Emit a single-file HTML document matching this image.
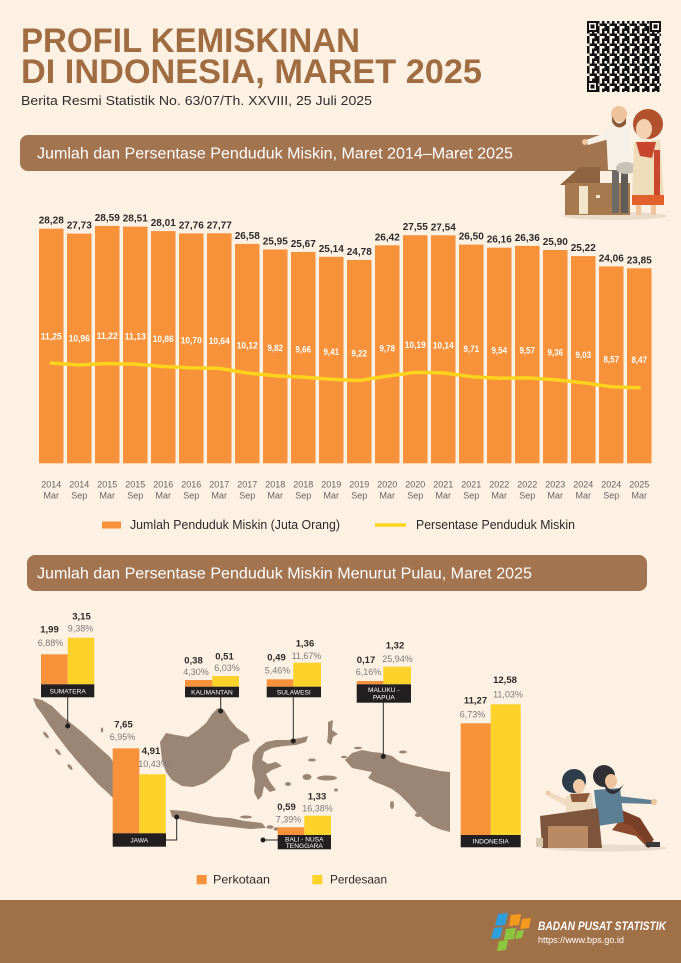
<!DOCTYPE html>
<html><head><meta charset="utf-8"><style>
html,body{margin:0;padding:0;background:#fdf1e3;}
svg{display:block;}
text{font-family:"Liberation Sans",sans-serif;}
.v{font-size:10px;font-weight:bold;fill:#2b2b2b;text-anchor:middle;}
.p{font-size:9.5px;font-weight:bold;fill:#ffffff;text-anchor:middle;}
.x{font-size:9px;fill:#666;text-anchor:middle;}
.n{font-size:9.5px;font-weight:bold;fill:#2b2b2b;text-anchor:middle;}
.q{font-size:9px;fill:#7a7a7a;text-anchor:middle;}
.b{font-size:6.6px;fill:#fff;text-anchor:middle;}
</style></head><body>
<svg width="681" height="963" viewBox="0 0 681 963" xmlns="http://www.w3.org/2000/svg">
<defs>
<pattern id="qr" width="10" height="10" patternUnits="userSpaceOnUse" x="587" y="21">
<rect x="0" y="0" width="10" height="10" fill="#fbf6ee"/>
<rect x="0" y="0" width="2.5" height="2.5" fill="#111"/>
<rect x="5" y="0" width="2.5" height="5" fill="#111"/>
<rect x="2.5" y="2.5" width="2.5" height="2.5" fill="#111"/>
<rect x="7.5" y="2.5" width="2.5" height="2.5" fill="#111"/>
<rect x="0" y="5" width="2.5" height="5" fill="#111"/>
<rect x="5" y="7.5" width="5" height="2.5" fill="#111"/>
<rect x="7.5" y="5" width="2.5" height="2.5" fill="#111"/>
</pattern>
</defs>
<rect x="0" y="0" width="681" height="963" fill="#fdf1e3"/>

<!-- Title -->
<text x="21" y="52" font-size="34" font-weight="bold" fill="#a06d42" textLength="339" lengthAdjust="spacingAndGlyphs">PROFIL KEMISKINAN</text>
<text x="21" y="83" font-size="34" font-weight="bold" fill="#a06d42" textLength="461" lengthAdjust="spacingAndGlyphs">DI INDONESIA, MARET 2025</text>
<text x="21" y="105" font-size="13" fill="#2e2e2e" textLength="351" lengthAdjust="spacingAndGlyphs">Berita Resmi Statistik No. 63/07/Th. XXVIII, 25 Juli 2025</text>

<!-- QR -->
<rect x="587" y="21" width="74" height="71" fill="url(#qr)"/>
<g fill="#111">
<rect x="587" y="21" width="11" height="11"/><rect x="650" y="21" width="11" height="11"/><rect x="587" y="81" width="11" height="11"/>
</g>
<g fill="#fbf6ee">
<rect x="589" y="23" width="7" height="7"/><rect x="652" y="23" width="7" height="7"/><rect x="589" y="83" width="7" height="7"/>
</g>
<g fill="#111">
<rect x="590.5" y="24.5" width="4" height="4"/><rect x="653.5" y="24.5" width="4" height="4"/><rect x="590.5" y="84.5" width="4" height="4"/>
</g>

<!-- Header 1 -->
<rect x="20" y="135" width="600" height="36" rx="8" fill="#a37450"/>
<text x="37" y="158.5" font-size="15.5" fill="#fff" textLength="476" lengthAdjust="spacingAndGlyphs">Jumlah dan Persentase Penduduk Miskin, Maret 2014–Maret 2025</text>

<!-- Top right illustration: house + couple -->
<ellipse cx="615" cy="216" rx="52" ry="4" fill="#eadccb"/>
<polygon points="560,185 580,167 600,167 600,185" fill="#8f6440"/>
<rect x="565" y="183" width="65" height="32" fill="#a7794f"/>
<rect x="579" y="186" width="9" height="28" fill="#f3e4cc"/>
<rect x="596" y="195" width="4" height="3" fill="#f3e4cc"/>
<!-- man -->
<rect x="612" y="165" width="7" height="48" fill="#6e6a66"/>
<rect x="621" y="165" width="7" height="48" fill="#5f5b57"/>
<path d="M606,128 L630,126 L632,170 L608,170 Z" fill="#f6f1e8"/>
<path d="M608,132 L586,140 L588,145 L609,139 Z" fill="#f6f1e8"/>
<circle cx="585" cy="142" r="3" fill="#efc39c"/>
<circle cx="619" cy="114" r="8" fill="#efc39c"/>
<path d="M612,116 Q618,130 626,118 L626,124 Q618,132 612,122 Z" fill="#8a5a38"/>
<ellipse cx="626" cy="168" rx="10" ry="6" fill="#c9c2b6"/>
<!-- woman -->
<circle cx="648" cy="124" r="15" fill="#b1522d"/>
<ellipse cx="644" cy="129" rx="8" ry="10" fill="#f4d1b1"/>
<path d="M634,142 L660,140 L664,200 L632,200 Z" fill="#eedcba"/>
<path d="M636,142 L656,142 L652,158 L640,156 Z" fill="#c8452e"/>
<rect x="654" y="150" width="6" height="45" fill="#c8452e"/>
<rect x="632" y="195" width="32" height="10" fill="#e2602b"/>
<rect x="636" y="205" width="5" height="10" fill="#efc39c"/>
<rect x="651" y="205" width="5" height="10" fill="#efc39c"/>

<!-- Bars -->
<g fill="#f7913a">
<rect x="39" y="228.7" width="24.5" height="234.6"/>
<rect x="67" y="233.6" width="24.5" height="229.7"/>
<rect x="95" y="225.9" width="24.5" height="237.4"/>
<rect x="123" y="226.6" width="24.5" height="236.7"/>
<rect x="151" y="231.1" width="24.5" height="232.2"/>
<rect x="179" y="233.4" width="24.5" height="229.9"/>
<rect x="207" y="233.3" width="24.5" height="230.0"/>
<rect x="235" y="243.9" width="24.5" height="219.4"/>
<rect x="263" y="249.5" width="24.5" height="213.8"/>
<rect x="291" y="252.0" width="24.5" height="211.3"/>
<rect x="319" y="256.8" width="24.5" height="206.5"/>
<rect x="347" y="260.0" width="24.5" height="203.3"/>
<rect x="375" y="245.3" width="24.5" height="218.0"/>
<rect x="403" y="235.2" width="24.5" height="228.1"/>
<rect x="431" y="235.3" width="24.5" height="228.0"/>
<rect x="459" y="244.6" width="24.5" height="218.7"/>
<rect x="487" y="247.7" width="24.5" height="215.6"/>
<rect x="515" y="245.9" width="24.5" height="217.4"/>
<rect x="543" y="250.0" width="24.5" height="213.3"/>
<rect x="571" y="256.1" width="24.5" height="207.2"/>
<rect x="599" y="266.4" width="24.5" height="196.9"/>
<rect x="627" y="268.3" width="24.5" height="195.0"/>
</g>
<!-- value labels -->
<g>
<text class="v" x="51.25" y="223.7">28,28</text>
<text class="v" x="79.25" y="228.6">27,73</text>
<text class="v" x="107.25" y="220.9">28,59</text>
<text class="v" x="135.25" y="221.6">28,51</text>
<text class="v" x="163.25" y="226.1">28,01</text>
<text class="v" x="191.25" y="228.4">27,76</text>
<text class="v" x="219.25" y="228.3">27,77</text>
<text class="v" x="247.25" y="238.9">26,58</text>
<text class="v" x="275.25" y="244.5">25,95</text>
<text class="v" x="303.25" y="247.0">25,67</text>
<text class="v" x="331.25" y="251.8">25,14</text>
<text class="v" x="359.25" y="255.0">24,78</text>
<text class="v" x="387.25" y="240.3">26,42</text>
<text class="v" x="415.25" y="230.2">27,55</text>
<text class="v" x="443.25" y="230.3">27,54</text>
<text class="v" x="471.25" y="239.6">26,50</text>
<text class="v" x="499.25" y="242.7">26,16</text>
<text class="v" x="527.25" y="240.9">26,36</text>
<text class="v" x="555.25" y="245.0">25,90</text>
<text class="v" x="583.25" y="251.1">25,22</text>
<text class="v" x="611.25" y="261.4">24,06</text>
<text class="v" x="639.25" y="263.3">23,85</text>
</g>
<!-- percentage line -->
<polyline fill="none" stroke="#fcd41c" stroke-width="3.5" stroke-linejoin="round" stroke-linecap="round" points="51.25,363.0 79.25,365.0 107.25,363.5 135.25,364.1 163.25,366.5 191.25,367.9 219.25,368.4 247.25,373.0 275.25,375.7 303.25,377.1 331.25,379.3 359.25,380.5 387.25,376.1 415.25,372.4 443.25,372.9 471.25,376.7 499.25,378.2 527.25,377.9 555.25,379.8 583.25,382.7 611.25,386.8 639.25,387.7"/>
<g>
<text class="p" x="51.25" y="339.5" textLength="21" lengthAdjust="spacingAndGlyphs">11,25</text>
<text class="p" x="79.25" y="341.6" textLength="21" lengthAdjust="spacingAndGlyphs">10,96</text>
<text class="p" x="107.25" y="338.8" textLength="21" lengthAdjust="spacingAndGlyphs">11,22</text>
<text class="p" x="135.25" y="339.6" textLength="21" lengthAdjust="spacingAndGlyphs">11,13</text>
<text class="p" x="163.25" y="342.0" textLength="21" lengthAdjust="spacingAndGlyphs">10,86</text>
<text class="p" x="191.25" y="343.4" textLength="21" lengthAdjust="spacingAndGlyphs">10,70</text>
<text class="p" x="219.25" y="343.9" textLength="21" lengthAdjust="spacingAndGlyphs">10,64</text>
<text class="p" x="247.25" y="348.5" textLength="21" lengthAdjust="spacingAndGlyphs">10,12</text>
<text class="p" x="275.25" y="351.2" textLength="15.5" lengthAdjust="spacingAndGlyphs">9,82</text>
<text class="p" x="303.25" y="352.6" textLength="15.5" lengthAdjust="spacingAndGlyphs">9,66</text>
<text class="p" x="331.25" y="354.8" textLength="15.5" lengthAdjust="spacingAndGlyphs">9,41</text>
<text class="p" x="359.25" y="356.5" textLength="15.5" lengthAdjust="spacingAndGlyphs">9,22</text>
<text class="p" x="387.25" y="351.6" textLength="15.5" lengthAdjust="spacingAndGlyphs">9,78</text>
<text class="p" x="415.25" y="347.9" textLength="21" lengthAdjust="spacingAndGlyphs">10,19</text>
<text class="p" x="443.25" y="348.4" textLength="21" lengthAdjust="spacingAndGlyphs">10,14</text>
<text class="p" x="471.25" y="352.2" textLength="15.5" lengthAdjust="spacingAndGlyphs">9,71</text>
<text class="p" x="499.25" y="353.7" textLength="15.5" lengthAdjust="spacingAndGlyphs">9,54</text>
<text class="p" x="527.25" y="353.4" textLength="15.5" lengthAdjust="spacingAndGlyphs">9,57</text>
<text class="p" x="555.25" y="355.3" textLength="15.5" lengthAdjust="spacingAndGlyphs">9,36</text>
<text class="p" x="583.25" y="358.2" textLength="15.5" lengthAdjust="spacingAndGlyphs">9,03</text>
<text class="p" x="611.25" y="362.3" textLength="15.5" lengthAdjust="spacingAndGlyphs">8,57</text>
<text class="p" x="639.25" y="363.2" textLength="15.5" lengthAdjust="spacingAndGlyphs">8,47</text>
</g>
<!-- x labels -->
<g>
<text class="x" x="51.25" y="487.5">2014</text><text class="x" x="51.25" y="498.5">Mar</text>
<text class="x" x="79.25" y="487.5">2014</text><text class="x" x="79.25" y="498.5">Sep</text>
<text class="x" x="107.25" y="487.5">2015</text><text class="x" x="107.25" y="498.5">Mar</text>
<text class="x" x="135.25" y="487.5">2015</text><text class="x" x="135.25" y="498.5">Sep</text>
<text class="x" x="163.25" y="487.5">2016</text><text class="x" x="163.25" y="498.5">Mar</text>
<text class="x" x="191.25" y="487.5">2016</text><text class="x" x="191.25" y="498.5">Sep</text>
<text class="x" x="219.25" y="487.5">2017</text><text class="x" x="219.25" y="498.5">Mar</text>
<text class="x" x="247.25" y="487.5">2017</text><text class="x" x="247.25" y="498.5">Sep</text>
<text class="x" x="275.25" y="487.5">2018</text><text class="x" x="275.25" y="498.5">Mar</text>
<text class="x" x="303.25" y="487.5">2018</text><text class="x" x="303.25" y="498.5">Sep</text>
<text class="x" x="331.25" y="487.5">2019</text><text class="x" x="331.25" y="498.5">Mar</text>
<text class="x" x="359.25" y="487.5">2019</text><text class="x" x="359.25" y="498.5">Sep</text>
<text class="x" x="387.25" y="487.5">2020</text><text class="x" x="387.25" y="498.5">Mar</text>
<text class="x" x="415.25" y="487.5">2020</text><text class="x" x="415.25" y="498.5">Sep</text>
<text class="x" x="443.25" y="487.5">2021</text><text class="x" x="443.25" y="498.5">Mar</text>
<text class="x" x="471.25" y="487.5">2021</text><text class="x" x="471.25" y="498.5">Sep</text>
<text class="x" x="499.25" y="487.5">2022</text><text class="x" x="499.25" y="498.5">Mar</text>
<text class="x" x="527.25" y="487.5">2022</text><text class="x" x="527.25" y="498.5">Sep</text>
<text class="x" x="555.25" y="487.5">2023</text><text class="x" x="555.25" y="498.5">Mar</text>
<text class="x" x="583.25" y="487.5">2024</text><text class="x" x="583.25" y="498.5">Mar</text>
<text class="x" x="611.25" y="487.5">2024</text><text class="x" x="611.25" y="498.5">Sep</text>
<text class="x" x="639.25" y="487.5">2025</text><text class="x" x="639.25" y="498.5">Mar</text>
</g>
<!-- legend 1 -->
<rect x="102" y="521.5" width="19" height="7" fill="#f7913a"/>
<text x="130" y="529" font-size="12.5" fill="#2b2b2b" textLength="210" lengthAdjust="spacingAndGlyphs">Jumlah Penduduk Miskin (Juta Orang)</text>
<line x1="375" y1="525" x2="406" y2="525" stroke="#fcd41c" stroke-width="3.5"/>
<text x="416" y="529" font-size="12.5" fill="#2b2b2b" textLength="159" lengthAdjust="spacingAndGlyphs">Persentase Penduduk Miskin</text>

<!-- Header 2 -->
<rect x="27" y="555" width="620" height="36" rx="8" fill="#a37450"/>
<text x="37" y="578.5" font-size="15.5" fill="#fff" textLength="495" lengthAdjust="spacingAndGlyphs">Jumlah dan Persentase Penduduk Miskin Menurut Pulau, Maret 2025</text>

<!-- Map -->
<g fill="#9b8676">
<path d="M33,698 L42,700 L52,706 L62,716 L72,724 L82,732 L92,741 L102,750 L110,757 L115,765 L120,778 L126,790 L124,800 L116,801 L108,793 L98,784 L88,773 L78,762 L68,750 L58,737 L50,726 L42,714 L36,706 Z"/>
<ellipse cx="46" cy="735" rx="1.5" ry="4" transform="rotate(-40 46 735)"/>
<ellipse cx="58" cy="752" rx="1.5" ry="4" transform="rotate(-40 58 752)"/>
<ellipse cx="70" cy="767" rx="1.5" ry="3.5" transform="rotate(-40 70 767)"/>
<ellipse cx="102" cy="730" rx="1.2" ry="2.5"/>
<path d="M160,742 L166,733 L176,735 L188,737 L198,730 L206,723 L212,714 L218,708 L224,710 L230,720 L237,728 L247,735 L250,741 L240,745 L233,750 L230,760 L224,768 L214,776 L205,783 L193,787 L182,786 L172,780 L166,772 L162,760 Z"/>
<path d="M170,810 L185,811 L200,814 L215,817 L230,818 L245,821 L262,823 L266,828 L250,829 L232,827 L215,825 L198,823 L183,820 L172,817 Z"/>
<ellipse cx="246" cy="817" rx="6" ry="1.5"/>
<ellipse cx="270" cy="827" rx="3.5" ry="1.8"/>
<ellipse cx="276" cy="829" rx="2.5" ry="1.8"/>
<path d="M253,755 L258,748 L266,742 L276,740 L288,740 L300,738 L308,736 L306,742 L296,745 L284,746 L272,748 L264,752 L262,760 L268,764 L276,762 L282,766 L272,770 L266,774 L270,782 L276,790 L270,792 L264,786 L262,796 L258,800 L254,792 L255,780 L252,768 Z"/>
<ellipse cx="288" cy="784" rx="3" ry="2"/>
<path d="M328,722 L333,720 L332,730 L338,734 L333,737 L331,745 L327,742 L328,734 Z"/>
<ellipse cx="307" cy="777" rx="4.5" ry="3"/>
<ellipse cx="327" cy="778" rx="10" ry="2.5"/>
<ellipse cx="312" cy="760" rx="4" ry="1.5"/>
<ellipse cx="344" cy="757" rx="3" ry="1.3"/>
<ellipse cx="358" cy="748" rx="4" ry="1.3"/>
<ellipse cx="336" cy="790" rx="2" ry="1.5"/>
<path d="M345,760 L352,753 L362,750 L372,752 L382,753 L392,756 L400,762 L412,765 L425,768 L440,771 L450,772 L450,832 L442,830 L432,826 L424,820 L416,812 L408,803 L400,795 L392,789 L383,785 L375,782 L368,778 L372,772 L362,770 L352,768 Z"/>
<ellipse cx="403" cy="752" rx="4" ry="1.5"/>
<ellipse cx="392" cy="805" rx="2" ry="4"/>
<ellipse cx="418" cy="815" rx="3" ry="2"/>
</g>

<!-- connectors -->
<g stroke="#2b2b2b" stroke-width="1" fill="none">
<line x1="67.7" y1="697" x2="67.7" y2="726"/>
<line x1="220.7" y1="697" x2="220.7" y2="711"/>
<line x1="293.3" y1="697" x2="293.3" y2="741"/>
<line x1="383.3" y1="702" x2="383.3" y2="756"/>
<polyline points="166,840 176.7,840 176.7,817"/>
<line x1="263" y1="840" x2="278" y2="840"/>
</g>
<g fill="#1f1f1f">
<circle cx="67.7" cy="726" r="2.5"/>
<circle cx="220.7" cy="711" r="2.5"/>
<circle cx="293.3" cy="741" r="2.5"/>
<circle cx="383.3" cy="756.5" r="2.5"/>
<circle cx="176.7" cy="817" r="2.5"/>
<circle cx="263" cy="840" r="2.5"/>
</g>

<!-- Region bars -->
<g>
<!-- Sumatera -->
<rect x="41" y="654.3" width="26.7" height="30" fill="#f7913a"/>
<rect x="67.7" y="637.7" width="26.6" height="46.6" fill="#fdd22a"/>
<rect x="41" y="684.3" width="53.3" height="13" fill="#231f20"/>
<text class="b" x="67.7" y="693.3">SUMATERA</text>
<text class="n" x="49.5" y="632.5">1,99</text>
<text class="q" x="50.5" y="646">6,88%</text>
<text class="n" x="81.5" y="619.5">3,15</text>
<text class="q" x="80.5" y="631.5">9,38%</text>
<!-- Kalimantan -->
<rect x="185" y="680" width="27.3" height="6.7" fill="#f7913a"/>
<rect x="212.3" y="676" width="26.7" height="10.7" fill="#fdd22a"/>
<rect x="185" y="686.7" width="54" height="10.6" fill="#231f20"/>
<text class="b" x="212" y="694.5">KALIMANTAN</text>
<text class="n" x="193.5" y="663.5">0,38</text>
<text class="q" x="196" y="675">4,30%</text>
<text class="n" x="224.5" y="659.5">0,51</text>
<text class="q" x="227" y="671">6,03%</text>
<!-- Sulawesi -->
<rect x="266.7" y="679.3" width="26.6" height="7.4" fill="#f7913a"/>
<rect x="293.3" y="662.7" width="27.7" height="24" fill="#fdd22a"/>
<rect x="266.7" y="686.7" width="54.3" height="10.6" fill="#231f20"/>
<text class="b" x="293.8" y="694.5">SULAWESI</text>
<text class="n" x="276.5" y="660.5">0,49</text>
<text class="q" x="277.5" y="673.5">5,46%</text>
<text class="n" x="305" y="646.5">1,36</text>
<text class="q" x="306.5" y="659">11,67%</text>
<!-- Maluku-Papua -->
<rect x="356.7" y="681" width="26.6" height="3.3" fill="#f7913a"/>
<rect x="383.3" y="666.7" width="27.7" height="17.6" fill="#fdd22a"/>
<rect x="356.7" y="684.3" width="54.3" height="18.4" fill="#231f20"/>
<text class="b" x="383.8" y="692">MALUKU -</text>
<text class="b" x="383.8" y="699.5">PAPUA</text>
<text class="n" x="366" y="662.8">0,17</text>
<text class="q" x="368.5" y="675">6,16%</text>
<text class="n" x="395" y="648.5">1,32</text>
<text class="q" x="397.5" y="661.8">25,94%</text>
<!-- Jawa -->
<rect x="112.7" y="748.3" width="26.6" height="85" fill="#f7913a"/>
<rect x="139.3" y="774.3" width="26.4" height="59" fill="#fdd22a"/>
<rect x="112.7" y="833.3" width="53.3" height="13.4" fill="#231f20"/>
<text class="b" x="139.3" y="842.5">JAWA</text>
<text class="n" x="123.5" y="727.5">7,65</text>
<text class="q" x="122.5" y="740">6,95%</text>
<text class="n" x="151" y="754">4,91</text>
<text class="q" x="153.5" y="767">10,43%</text>
<!-- Bali - Nusa Tenggara -->
<rect x="277.7" y="827.3" width="26.6" height="7.7" fill="#f7913a"/>
<rect x="304.3" y="815.7" width="26.7" height="19.3" fill="#fdd22a"/>
<rect x="277.7" y="835" width="53.3" height="14.3" fill="#231f20"/>
<text class="b" x="304.3" y="841.6">BALI - NUSA</text>
<text class="b" x="304.3" y="848">TENGGARA</text>
<text class="n" x="286.5" y="810">0,59</text>
<text class="q" x="288.5" y="822.5">7,39%</text>
<text class="n" x="317" y="799.5">1,33</text>
<text class="q" x="317.5" y="811.5">16,38%</text>
<!-- Indonesia -->
<rect x="460.7" y="723.3" width="30" height="111.7" fill="#f7913a"/>
<rect x="490.7" y="704.3" width="30" height="130.7" fill="#fdd22a"/>
<rect x="460.7" y="835" width="60" height="12.3" fill="#231f20"/>
<text class="b" x="490.7" y="843.6">INDONESIA</text>
<text class="n" x="475.5" y="703.5">11,27</text>
<text class="q" x="472.5" y="717.5">6,73%</text>
<text class="n" x="505" y="683">12,58</text>
<text class="q" x="508" y="697.5">11,03%</text>
</g>

<!-- Bottom-right illustration: sitting couple -->
<ellipse cx="605" cy="848" rx="62" ry="3.5" fill="#e8dccd"/>
<path d="M620,820 L645,832 L656,845 L648,848 L636,836 L612,830 Z" fill="#8c4b2e"/>
<path d="M612,806 L640,818 L654,840 L646,843 L632,826 L606,818 Z" fill="#7a3f27"/>
<rect x="646" y="842" width="14" height="5" fill="#3a3a3a"/>
<path d="M594,790 L620,788 L624,822 L598,826 Z" fill="#5d7f93"/>
<path d="M618,796 L652,800 L652,804 L618,803 Z" fill="#5d7f93"/>
<circle cx="654" cy="802" r="3" fill="#efc39c"/>
<circle cx="604" cy="776" r="11" fill="#2f2f35"/>
<ellipse cx="611" cy="781" rx="6" ry="7" fill="#efc39c"/>
<path d="M604,784 Q614,796 624,784 L620,790 Q612,798 606,790 Z" fill="#2f2f35"/>
<circle cx="574" cy="781" r="12" fill="#2e3d4c"/>
<ellipse cx="579" cy="786" rx="6" ry="7" fill="#f1cba8"/>
<path d="M566,796 L592,794 L594,815 L566,818 Z" fill="#efdcc0"/>
<path d="M570,794 L590,793 L586,802 L572,802 Z" fill="#8c5a3a"/>
<path d="M568,800 L550,792 L548,796 L566,806 Z" fill="#efdcc0"/>
<circle cx="548" cy="793" r="2.5" fill="#f1cba8"/>
<path d="M540,816 L598,808 L602,848 L542,848 Z" fill="#7d553c"/>
<rect x="548" y="826" width="40" height="22" fill="#b98a63"/>
<rect x="536" y="838" width="7" height="9" fill="#d9c7b0"/>

<!-- Legend bottom -->
<rect x="196.7" y="875" width="10" height="9.3" fill="#f7913a"/>
<text x="213" y="883.5" font-size="12" fill="#2b2b2b" textLength="57" lengthAdjust="spacingAndGlyphs">Perkotaan</text>
<rect x="312.3" y="875" width="10" height="9.3" fill="#fdd22a"/>
<text x="330" y="883.5" font-size="12" fill="#2b2b2b" textLength="57" lengthAdjust="spacingAndGlyphs">Perdesaan</text>

<!-- Footer -->
<rect x="0" y="900" width="681" height="63" fill="#a07047"/>
<g>
<polygon points="498,914 508,913 505,925 495,926" fill="#2d9fdc"/>
<polygon points="494,928 503,927 500,938 491,939" fill="#2d9fdc"/>
<polygon points="511,915 521,914 519,925 509,926" fill="#f39a1e"/>
<polygon points="522,919 531,918 529,928 520,929" fill="#f39a1e"/>
<polygon points="506,929 516,928 514,939 504,940" fill="#8cc63f"/>
<polygon points="499,941 508,940 506,950 497,951" fill="#8cc63f"/>
<polygon points="517,931 524,930 522,938 515,939" fill="#8cc63f"/>
</g>
<text x="538" y="930" font-size="12" font-weight="bold" font-style="italic" fill="#fff" textLength="128" lengthAdjust="spacingAndGlyphs">BADAN PUSAT STATISTIK</text>
<text x="538" y="943" font-size="9" fill="#fff" textLength="86" lengthAdjust="spacingAndGlyphs">https://www.bps.go.id</text>
</svg>
</body></html>
